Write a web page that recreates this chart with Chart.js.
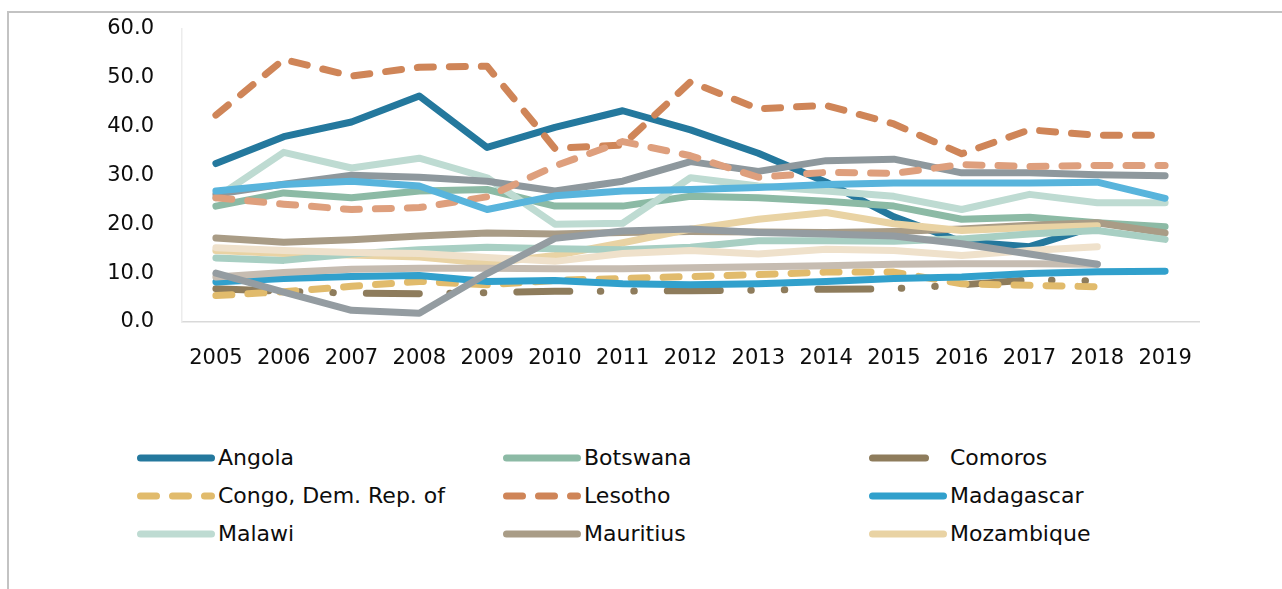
<!DOCTYPE html>
<html>
<head>
<meta charset="utf-8">
<script src="https://cdn.jsdelivr.net/npm/chart.js@4/dist/chart.umd.min.js"></script>
<style>
    body { margin: 0; background: #fff; width: 1282px; height: 589px; overflow: hidden; position: relative; font-family: 'DejaVu Sans', sans-serif; }
    #moldura { position: absolute; left: 7px; top: 11px; width: 1400px; height: 700px; border-top: 2px solid #c3c3c3; border-left: 2px solid #c3c3c3; }
    #myChart { position: absolute; left: 0; top: -12px; }
    .item { position: absolute; height: 30px; }
    .item svg { position: absolute; left: 0; top: 9px; }
    .item span { position: absolute; left: 81px; top: 0; line-height: 30px; font-size: 22px; color: #0d0d0d; white-space: nowrap; }
</style>
</head>
<body>
<div id="moldura"></div>
<canvas id="myChart" width="1282" height="410"></canvas>
<div id="legenda"></div>
<script>
var anos = ['2005', '2006', '2007', '2008', '2009', '2010', '2011', '2012', '2013', '2014', '2015', '2016', '2017', '2018', '2019'];

var angola     = [32.4, 37.9, 40.9, 46.2, 35.7, 39.8, 43.2, 39.3, 34.5, 28.6, 21.5, 16.4, 15.4, 19.7, null];
var botswana   = [23.7, 26.4, 25.4, 26.8, 27.1, 23.7, 23.7, 25.7, 25.4, 24.7, 23.7, 21.0, 21.4, 20.3, 19.5];
var comoros    = [6.8, 6.3, 5.9, 5.8, 6.0, 6.3, 6.3, 6.4, 6.5, 6.7, 6.8, 7.6, 8.6, 8.4, null];
var congo      = [5.4, 6.2, 7.3, 8.3, 7.6, 8.5, 8.9, 9.3, 9.7, 10.2, 10.2, 7.8, 7.5, 7.2, null];
var lesotho    = [42.3, 53.7, 50.3, 52.1, 52.3, 35.5, 36.2, 49.1, 43.6, 44.3, 40.5, 34.4, 39.3, 38.2, 38.2];
var madagascar = [8.2, 8.9, 9.3, 9.5, 8.3, 8.5, 7.8, 7.6, 7.8, 8.3, 8.9, 9.2, 9.9, 10.3, 10.4];
var malawi     = [25.4, 34.7, 31.5, 33.5, 29.5, 20.0, 20.2, 29.5, 27.8, 26.8, 25.7, 23.0, 26.1, 24.4, 24.4];
var mauritius  = [17.2, 16.3, 16.8, 17.6, 18.2, 18.0, 18.3, 18.5, 18.4, 18.3, 18.5, 19.0, 19.8, 20.3, 18.2];
var mozambique = [14.6, 14.0, 13.7, 13.3, 12.0, 13.6, 16.2, 19.0, 21.0, 22.4, 20.1, 18.7, 19.3, 19.7, null];
var namibia    = [26.1, 28.2, 30.0, 29.6, 28.8, 26.8, 28.8, 32.8, 30.8, 33.0, 33.3, 30.5, 30.5, 30.1, 29.9];
var seychelles = [25.4, 24.1, 23.0, 23.4, 25.6, 31.9, 36.9, 34.0, 29.6, 30.6, 30.4, 32.2, 31.8, 32.0, 32.0];
var southAfrica = [26.8, 28.1, 28.8, 27.8, 23.0, 25.8, 26.8, 27.1, 27.5, 28.1, 28.4, 28.4, 28.4, 28.6, 25.3];
var eswatini   = [13.1, 12.6, 13.9, 14.8, 15.3, 15.0, 14.8, 15.3, 16.6, 16.6, 16.5, 17.0, 18.0, 18.7, 16.9];
var tanzania   = [15.2, 14.6, 14.2, 14.0, 13.2, 12.4, 14.0, 14.6, 13.9, 14.9, 14.6, 13.6, 14.6, 15.4, null];
var zambia     = [9.2, 10.1, 10.8, 11.0, 11.0, 10.9, 10.9, 11.1, 11.3, 11.5, 11.8, 11.9, 11.9, 11.8, null];
var zimbabwe   = [10.0, 6.1, 2.4, 1.8, 9.9, 17.1, 18.6, 19.0, 18.3, 18.0, 17.6, 16.0, 13.9, 11.8, null];

var yTicks = [0, 10, 20, 30, 40, 50, 60];

// tracejados
var tracoSimples = [16, 16];
var tracoPontoPonto = [53, 30.5, 0.5, 33, 0.5, 33];

var series = [
    { nome: 'Angola', dados: angola, cor: '#24789d', traco: [] },
    { nome: 'Botswana', dados: botswana, cor: '#8cbaa5', traco: [] },
    { nome: 'Comoros', dados: comoros, cor: '#8e7c5c', traco: tracoPontoPonto },
    { nome: 'Congo, Dem. Rep. of', dados: congo, cor: '#e1bb6c', traco: tracoSimples },
    { nome: 'Lesotho', dados: lesotho, cor: '#cf8558', traco: tracoSimples },
    { nome: 'Madagascar', dados: madagascar, cor: '#31a0cc', traco: [] },
    { nome: 'Malawi', dados: malawi, cor: '#bedbd2', traco: [] },
    { nome: 'Mauritius', dados: mauritius, cor: '#a99c86', traco: [] },
    { nome: 'Mozambique', dados: mozambique, cor: '#e9d3a4', traco: [] },
    { nome: 'Namibia', dados: namibia, cor: '#8e989d', traco: [] },
    { nome: 'Seychelles', dados: seychelles, cor: '#de9f7d', traco: tracoSimples },
    { nome: 'South Africa', dados: southAfrica, cor: '#58b4dc', traco: [] },
    { nome: 'Eswatini', dados: eswatini, cor: '#a8cfc3', traco: [] },
    { nome: 'Tanzania', dados: tanzania, cor: '#efe1cb', traco: [] },
    { nome: 'Zambia', dados: zambia, cor: '#c6bcb1', traco: [] },
    { nome: 'Zimbabwe', dados: zimbabwe, cor: '#949ca1', traco: [] }
];

// a legenda so mostra os nove primeiros paises
var naLegenda = 9;

function carregar() {
    var datasets = series.map(function (s, i) {
        return {
            label: s.nome,
            data: s.dados,
            borderColor: s.cor,
            backgroundColor: s.cor,
            borderWidth: 7,
            borderDash: s.traco,
            borderCapStyle: 'round',
            borderJoinStyle: 'round',
            pointRadius: 0,
            tension: 0,
            fill: false,
            order: -i
        };
    });

    var ctx = document.getElementById('myChart').getContext('2d');
    var chart = new Chart(ctx, {
        type: 'line',
        data: { labels: anos, datasets: datasets },
        options: {
            responsive: false,
            animation: false,
            layout: { padding: { top: 14, right: 83, bottom: 16, left: 0 } },
            plugins: {
                legend: { display: false },
                tooltip: { enabled: false }
            },
            scales: {
                x: {
                    offset: true,
                    grid: { display: true, drawOnChartArea: false, drawTicks: false, offset: true },
                    border: { display: true, color: '#d9d9d9', width: 1.5 },
                    ticks: { color: '#0d0d0d', font: { family: 'DejaVu Sans', size: 21 }, padding: 24, maxRotation: 0, autoSkip: false },
                    afterFit: function (scale) { scale.height = 60; }
                },
                y: {
                    min: 0,
                    max: 60,
                    afterBuildTicks: function (scale) {
                        scale.ticks = yTicks.map(function (v) { return { value: v }; });
                    },
                    grid: { display: true, drawOnChartArea: false, drawTicks: false },
                    border: { display: true, color: '#ececec', width: 1.5 },
                    ticks: {
                        color: '#0d0d0d',
                        font: { family: 'DejaVu Sans', size: 21 },
                        padding: 28,
                        callback: function (v) { return Number(v).toFixed(1); }
                    },
                    afterFit: function (scale) { scale.width = 182; }
                }
            }
        }
    });

    montarLegenda();
}

function montarLegenda() {
    var colunas = [137, 503, 869];
    var linhas = [458, 496, 534];
    var div = document.getElementById('legenda');
    series.slice(0, naLegenda).forEach(function (s, i) {
        var x = colunas[i % 3];
        var y = linhas[Math.floor(i / 3)];
        var item = document.createElement('div');
        item.className = 'item';
        item.style.left = x + 'px';
        item.style.top = (y - 15) + 'px';
        var dash = s.traco.length ? ' stroke-dasharray="' + s.traco.join(' ') + '"' : '';
        item.innerHTML =
            '<svg width="80" height="12"><line x1="3.5" y1="6" x2="74.5" y2="6" stroke="' + s.cor +
            '" stroke-width="7" stroke-linecap="round"' + dash + '/></svg>' +
            '<span>' + s.nome + '</span>';
        div.appendChild(item);
    });
}

carregar();
</script>
</body>
</html>
